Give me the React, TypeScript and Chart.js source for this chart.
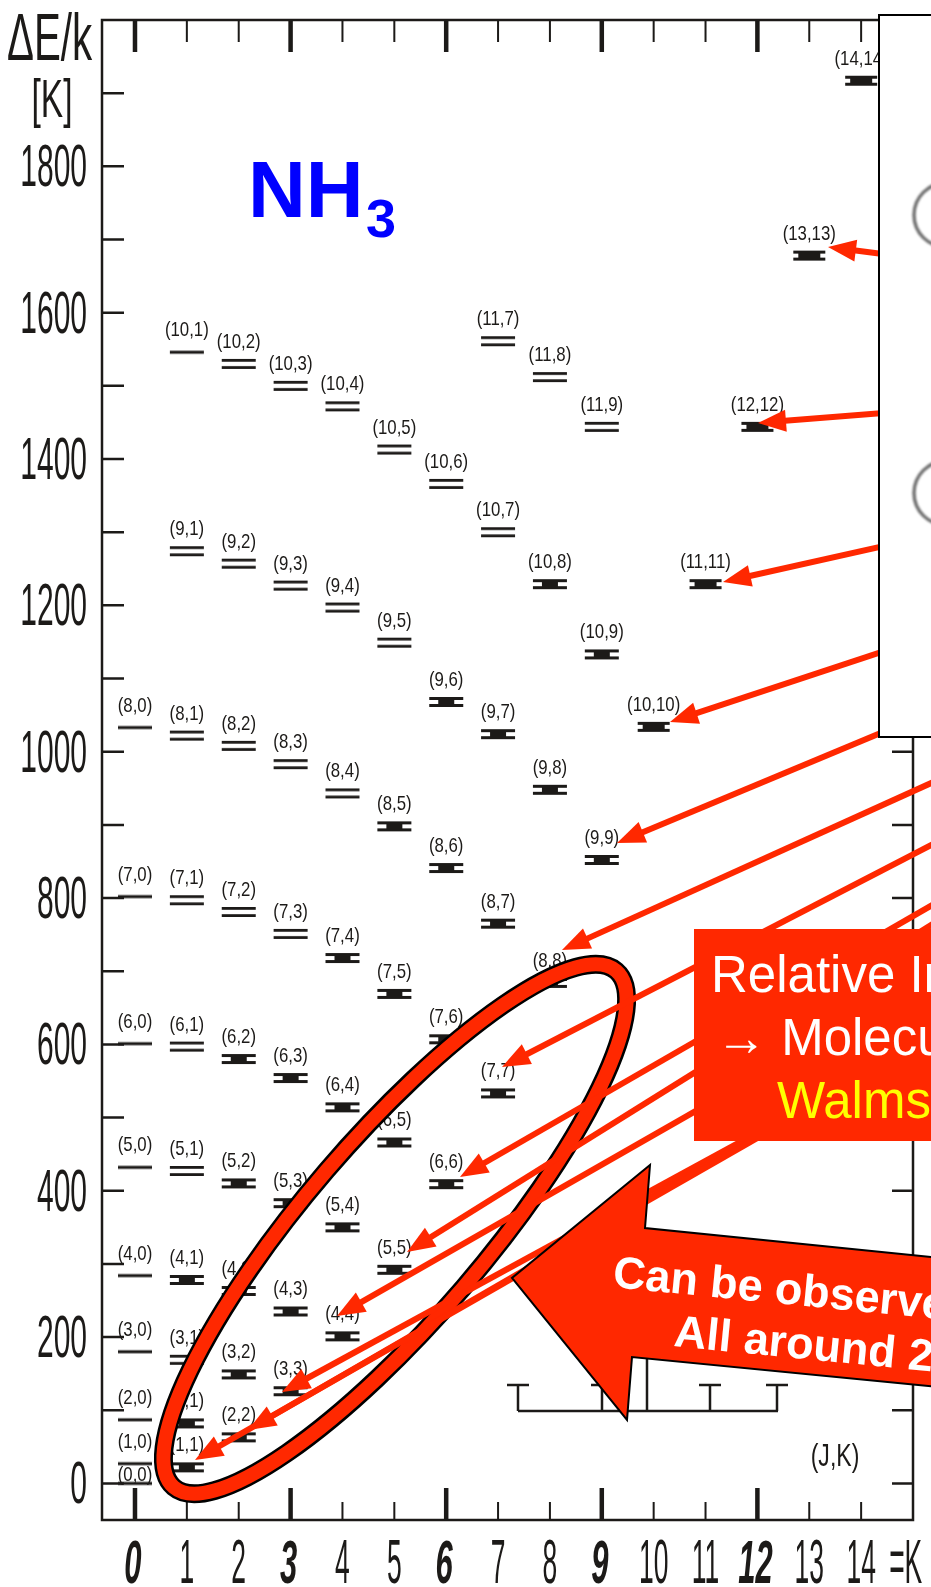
import React, { useEffect, useRef } from "react";
import { Chart, registerables } from "chart.js";
Chart.register(...registerables);

// ---------- DATA: NH3 rotational-inversion levels, ΔE/k in K ----------
// One array per K ladder; J runs from K upward (K = 0 ladder starts at J = 0)
const ladderK0 = [0, 27, 87, 180, 284, 432, 601, 802, 1033];
const ladderK1 = [22, 82, 169, 278, 427, 597, 797, 1022, 1274, 1546];
const ladderK2 = [63, 149, 263, 410, 580, 781, 1008, 1257, 1530];
const ladderK3 = [126, 235, 383, 554, 751, 983, 1227, 1500];
const ladderK4 = [201, 350, 514, 718, 943, 1197, 1472];
const ladderK5 = [292, 466, 669, 898, 1149, 1413];
const ladderK6 = [409, 607, 841, 1068, 1366];
const ladderK7 = [533, 765, 1024, 1300, 1561];
const ladderK8 = [684, 948, 1229, 1512];
const ladderK9 = [852, 1133, 1444];
const ladderK10 = [1034];
const ladderK11 = [1229];
const ladderK12 = [1444];
const ladderK13 = [1678];
const ladderK14 = [1917];
const ladders = [
  ladderK0, ladderK1, ladderK2, ladderK3, ladderK4, ladderK5, ladderK6, ladderK7,
  ladderK8, ladderK9, ladderK10, ladderK11, ladderK12, ladderK13, ladderK14,
];
// levels whose inversion doublet is drawn as two separate lines
const openDoublets = [
  "3,1", "5,1", "6,1", "7,1", "7,2", "7,3", "8,1", "8,2", "8,3", "8,4",
  "9,1", "9,2", "9,3", "9,4", "9,5", "10,2", "10,3", "10,4", "10,5", "10,6", "10,7",
  "11,7", "11,8", "11,9",
];
const singleLines = ["10,1"];
// axis ticks
const xTickValues = [0, 1, 2, 3, 4, 5, 6, 7, 8, 9, 10, 11, 12, 13, 14];
const xTickLabels = ["0", "1", "2", "3", "4", "5", "6", "7", "8", "9", "10", "11", "12", "13", "14"];
const xMajorTicks = [0, 3, 6, 9, 12];
const yTickValues = [0, 200, 400, 600, 800, 1000, 1200, 1400, 1600, 1800];
const yTickLabels = ["0", "200", "400", "600", "800", "1000", "1200", "1400", "1600", "1800"];
const yTickMarks = [0, 100, 200, 300, 400, 500, 600, 700, 800, 900, 1000, 1100, 1200, 1300, 1400, 1500, 1600, 1700, 1800, 1900];
// annotation arrows (overlay, pixel positions): [tipX, tipY, fromX, fromY]
const arrowTips = [
  [828, 247, 960, 264], [758, 423, 960, 407], [723, 582, 960, 529], [670, 722, 960, 626],
  [617, 843, 960, 700], [562, 950, 960, 770], [502, 1067, 960, 830], [460, 1177, 960, 889],
  [407, 1252, 960, 907], [337, 1316, 960, 960], [282, 1392, 960, 1022], [248, 1430, 960, 1018],
  [195, 1460, 960, 1022],
];
const textBoxLines = ["Relative Intensities", "→ Molecular temperature", "Walmsley & Ungerechts"];
const bigArrowLines = ["Can be observed", "All around 24 GHz"];

const FONT = "'Liberation Sans', Arial, sans-serif";
const INK = "#1c1a18";
const RED = "#ff2800";

function makeMarker(type: string): HTMLCanvasElement {
  const c = document.createElement("canvas");
  c.width = 38;
  c.height = 16;
  const g = c.getContext("2d")!;
  g.fillStyle = INK;
  if (type === "single") {
    g.fillRect(2, 6.5, 34, 3);
  } else if (type === "double") {
    g.fillRect(2, 3, 34, 2.8);
    g.fillRect(2, 10.2, 34, 2.8);
  } else if (type === "h") {
    g.fillRect(2, 3, 34, 3);
    g.fillRect(2, 10, 34, 3);
    g.fillRect(11, 3, 16, 10);
  } else {
    g.fillRect(3, 3, 32, 3);
    g.fillRect(3, 10, 32, 3);
    g.fillRect(8, 3, 22, 10);
  }
  return c;
}

function sText(ctx: CanvasRenderingContext2D, text: string, x: number, y: number, size: number, sx: number,
  align: CanvasTextAlign, font = "normal", color = INK) {
  ctx.save();
  ctx.font = `${font} ${size}px ${FONT}`;
  ctx.fillStyle = color;
  ctx.textAlign = align;
  ctx.textBaseline = "alphabetic";
  ctx.translate(x, y);
  ctx.scale(sx, 1);
  ctx.fillText(text, 0, 0);
  ctx.restore();
}

function drawArrow(ctx: CanvasRenderingContext2D, tx: number, ty: number, fx: number, fy: number) {
  const dx = tx - fx, dy = ty - fy;
  const len = Math.hypot(dx, dy);
  const ux = dx / len, uy = dy / len;
  const hl = 28, hw = 11;
  const bx = tx - ux * hl, by = ty - uy * hl;
  ctx.save();
  ctx.strokeStyle = RED;
  ctx.fillStyle = RED;
  ctx.lineWidth = 6;
  ctx.beginPath();
  ctx.moveTo(fx, fy);
  ctx.lineTo(bx + ux * 4, by + uy * 4);
  ctx.stroke();
  ctx.beginPath();
  ctx.moveTo(tx, ty);
  ctx.lineTo(bx - uy * hw, by + ux * hw);
  ctx.lineTo(bx + uy * hw, by - ux * hw);
  ctx.closePath();
  ctx.fill();
  ctx.restore();
}

export default function App() {
  const ref = useRef<HTMLCanvasElement>(null);
  useEffect(() => {
    document.body.style.margin = "0";
    const canvas = ref.current!;
    const markers: Record<string, HTMLCanvasElement> = {
      single: makeMarker("single"),
      double: makeMarker("double"),
      h: makeMarker("h"),
      solid: makeMarker("solid"),
    };
    const points: { x: number; y: number }[] = [];
    const labels: string[] = [];
    const types: string[] = [];
    const js: number[] = [];
    ladders.forEach((arr, K) =>
      arr.forEach((E, i) => {
        const J = K + i;
        const key = `${J},${K}`;
        points.push({ x: K, y: E });
        labels.push(`(${key})`);
        js.push(J);
        let t = "h";
        if (K === 0 || singleLines.includes(key)) t = "single";
        else if (openDoublets.includes(key)) t = "double";
        else if (K === J && J >= 10) t = "solid";
        types.push(t);
      })
    );

    const diagram = {
      id: "diagram",
      beforeDatasetsDraw(chart: any) {
        const { ctx, chartArea: a, scales } = chart;
        const xs = scales.x, ys = scales.y;
        ctx.save();
        ctx.fillStyle = "#ffffff";
        ctx.fillRect(0, 0, chart.width, chart.height);
        ctx.strokeStyle = INK;
        ctx.lineWidth = 2.5;
        ctx.strokeRect(a.left, a.top, a.right - a.left, a.bottom - a.top);
        // x ticks (top and bottom, inward)
        xTickValues.forEach((v) => {
          const px = xs.getPixelForValue(v);
          const major = xMajorTicks.includes(v);
          ctx.lineWidth = major ? 4.5 : 2;
          ctx.beginPath();
          ctx.moveTo(px, a.top);
          ctx.lineTo(px, a.top + (major ? 32 : 22));
          ctx.moveTo(px, a.bottom);
          ctx.lineTo(px, a.bottom - (major ? 32 : 18));
          ctx.stroke();
        });
        // y ticks (left and right, inward)
        ctx.lineWidth = 2.5;
        yTickMarks.forEach((v) => {
          const py = ys.getPixelForValue(v);
          ctx.beginPath();
          ctx.moveTo(a.left, py);
          ctx.lineTo(a.left + 22, py);
          ctx.moveTo(a.right, py);
          ctx.lineTo(a.right - 21, py);
          ctx.stroke();
        });
        // tick labels
        yTickValues.forEach((v, i) => {
          const py = ys.getPixelForValue(v);
          sText(ctx, yTickLabels[i], a.left - 15, py + 20, 60, 0.5, "right");
        });
        xTickValues.forEach((v, i) => {
          const px = xs.getPixelForValue(v);
          if (xMajorTicks.includes(v)) sText(ctx, xTickLabels[i], px - 2, a.bottom + 63, 62, 0.5, "center", "italic bold");
          else sText(ctx, xTickLabels[i], px, a.bottom + 63, 63, 0.42, "center");
        });
        sText(ctx, "=K", xs.getPixelForValue(14) + 28, a.bottom + 63, 63, 0.42, "left");
        // axis title
        sText(ctx, "ΔE/k", 7, 60, 66, 0.61, "left");
        sText(ctx, "[K]", 52, 117, 54, 0.62, "center");
        ctx.restore();
      },
      afterDatasetsDraw(chart: any) {
        const { ctx } = chart;
        const meta = chart.getDatasetMeta(0);
        ctx.save();
        // level labels
        meta.data.forEach((el: any, i: number) => {
          const off = js[i] === 0 ? 2 : 16;
          sText(ctx, labels[i], el.x, el.y - off, 21, 0.8, "center");
        });
        // (J,K) key and bracket sketch
        sText(ctx, "(J,K)", 835, 1466, 32, 0.72, "center");
        ctx.strokeStyle = INK;
        ctx.lineWidth = 2.5;
        ctx.beginPath();
        ctx.moveTo(518, 1411); ctx.lineTo(778, 1411);
        [518, 602, 710, 777].forEach((x) => {
          ctx.moveTo(x, 1411); ctx.lineTo(x, 1385);
          ctx.moveTo(x - 11, 1385); ctx.lineTo(x + 11, 1385);
        });
        ctx.moveTo(647, 1411); ctx.lineTo(647, 1350);
        ctx.stroke();
        // NH3 title
        ctx.fillStyle = "#0000ff";
        ctx.font = `bold 80px ${FONT}`;
        ctx.textAlign = "left";
        ctx.fillText("NH", 248, 217);
        ctx.font = `bold 54px ${FONT}`;
        ctx.fillText("3", 366, 237);
        // ellipse
        const rot = (-49.4 * Math.PI) / 180;
        ctx.beginPath();
        ctx.ellipse(395, 1229, 340, 90, rot, 0, Math.PI * 2);
        ctx.strokeStyle = "#000";
        ctx.lineWidth = 19;
        ctx.stroke();
        ctx.strokeStyle = RED;
        ctx.lineWidth = 14;
        ctx.stroke();
        // arrows
        arrowTips.forEach(([tx, ty, fx, fy]) => drawArrow(ctx, tx, ty, fx, fy));
        // white inset box with circles
        ctx.fillStyle = "#fff";
        ctx.fillRect(879, 15, 80, 722);
        ctx.strokeStyle = "#000";
        ctx.lineWidth = 2;
        ctx.strokeRect(879, 15, 80, 722);
        ctx.save();
        ctx.filter = "blur(1px)";
        ctx.strokeStyle = "#707070";
        ctx.lineWidth = 3.5;
        [215, 493].forEach((cy) => {
          ctx.beginPath();
          ctx.arc(946, cy, 32, 0, Math.PI * 2);
          ctx.stroke();
        });
        ctx.restore();
        // red text box
        ctx.fillStyle = RED;
        ctx.fillRect(694, 929, 260, 212);
        ctx.font = `51px ${FONT}`;
        ctx.fillStyle = "#fff";
        ctx.fillText(textBoxLines[0], 711, 992);
        ctx.fillText(textBoxLines[1], 716, 1055);
        ctx.fillStyle = "#ffff00";
        ctx.fillText(textBoxLines[2], 777, 1118);
        // big block arrow
        ctx.beginPath();
        ctx.moveTo(970, 1261);
        ctx.lineTo(645, 1228);
        ctx.lineTo(650, 1165);
        ctx.lineTo(512, 1278);
        ctx.lineTo(627, 1420);
        ctx.lineTo(632, 1357);
        ctx.lineTo(970, 1390);
        ctx.closePath();
        ctx.fillStyle = RED;
        ctx.fill();
        ctx.strokeStyle = "#000";
        ctx.lineWidth = 2;
        ctx.stroke();
        const ang = (5.6 * Math.PI) / 180;
        ctx.font = `bold 45px ${FONT}`;
        ctx.fillStyle = "#fff";
        [[612, 1287], [673, 1346]].forEach(([x, y], i) => {
          ctx.save();
          ctx.translate(x, y);
          ctx.rotate(ang);
          ctx.fillText(bigArrowLines[i], 0, 0);
          ctx.restore();
        });
        ctx.restore();
      },
    };

    const chart = new Chart(canvas, {
      type: "scatter",
      data: {
        datasets: [
          {
            data: points,
            pointStyle: (c: any) => markers[types[c.dataIndex]] as any,
            pointRadius: 3,
            pointHoverRadius: 3,
            clip: false as any,
          },
        ],
      },
      options: {
        animation: false,
        responsive: false,
        devicePixelRatio: 1,
        events: [],
        layout: { padding: { left: 102, top: 20, right: 18, bottom: 67 } },
        plugins: { legend: { display: false }, tooltip: { enabled: false } },
        scales: {
          x: { type: "linear", min: -0.636, max: 15.0, display: false },
          y: { type: "linear", min: -50, max: 2000, display: false },
        },
      },
      plugins: [diagram],
    });
    return () => chart.destroy();
  }, []);
  return (
    <div style={{ width: 931, height: 1587 }}>
      <canvas ref={ref} width={931} height={1587} style={{ display: "block", width: 931, height: 1587 }} />
    </div>
  );
}
